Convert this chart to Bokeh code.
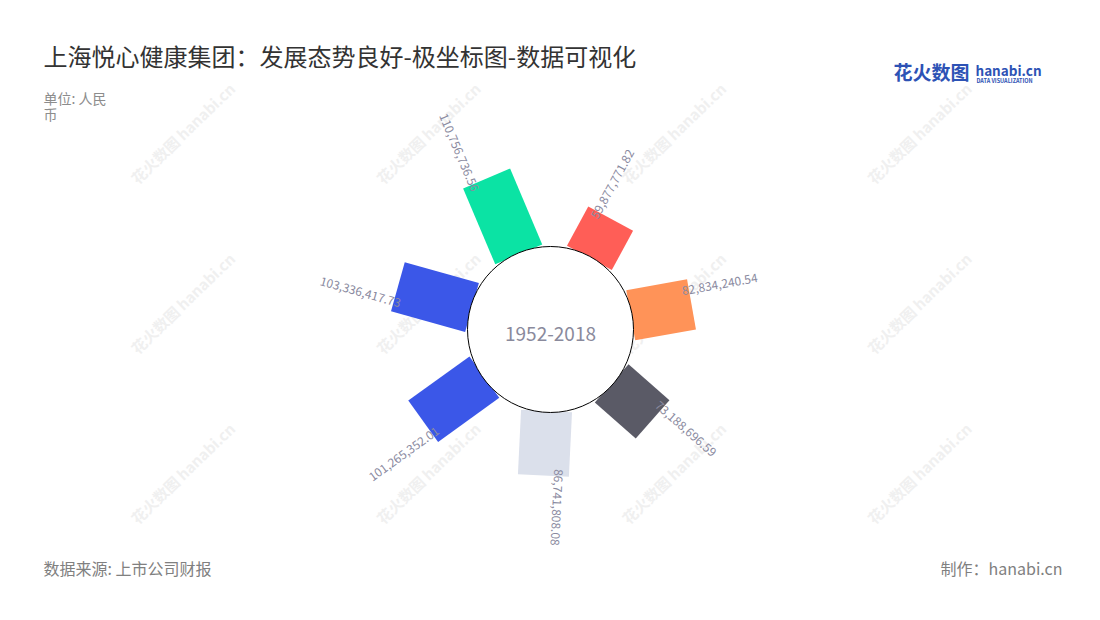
import math
from bokeh.plotting import figure
from bokeh.models import Range1d, ColumnDataSource
from bokeh.core.properties import value
from bokeh.embed import file_html
from bokeh.resources import INLINE

# ---- data ----
values = [59877771.82, 82834240.54, 73188696.59, 86741808.08,
          101265352.01, 103336417.73, 110756736.56]
colors = ["#ff5e57", "#ff9358", "#5a5a66", "#dbe0eb",
          "#3b57e8", "#3b57e8", "#0be3a4"]
center_label = "1952-2018"
title = "上海悦心健康集团：发展态势良好-极坐标图-数据可视化"
unit_lines = ["单位: 人民", "币"]
source_text = "数据来源: 上市公司财报"
credit_text = "制作：hanabi.cn"

FONT = "Noto Sans CJK SC"
W, H = 1100, 620

p = figure(width=1084, height=604, x_range=Range1d(0, 1084), y_range=Range1d(16, 620),
           output_backend="svg", toolbar_location=None, min_border=0)
p.axis.visible = False
p.grid.visible = False
p.outline_line_color = None
p.background_fill_color = "white"
p.border_fill_color = "white"


def Y(py):
    return H - py


# ---- watermarks ----
wx, wy = [], []
for i in range(4):
    for j in range(3):
        wx.append(133 + 245.5 * i)
        wy.append(Y(180 + 170 * j))
p.text(x=wx, y=wy, text=["花火数图 hanabi.cn"] * len(wx), angle=math.radians(44),
       text_font=value(FONT), text_font_size="15px", text_font_style="bold",
       text_color="#f0f0f0", text_align="left", text_baseline="middle")

# ---- polar bars ----
cx, cy = 550, Y(329)
r0 = 81.5
scale = 0.745e-6   # px per unit value
bar_w = 51
n = len(values)
offset = 28.5

xs, ys = [], []
out_lab = dict(x=[], y=[], text=[], angle=[])
in_lab = dict(x=[], y=[], text=[], angle=[])
for k, v in enumerate(values):
    th = math.radians(offset + k * 360.0 / n)   # compass angle, clockwise from north
    ux, uy = math.sin(th), math.cos(th)
    vx, vy = -math.cos(th), math.sin(th)          # counter-clockwise side
    r1 = r0 + v * scale
    pts = [(r0, -bar_w / 2), (r1, -bar_w / 2), (r1, bar_w / 2), (r0, bar_w / 2)]
    xs.append([cx + r * ux + s * vx for r, s in pts])
    ys.append([cy + r * uy + s * vy for r, s in pts])
    a, d = 7, 15
    lx = cx + (r1 - a) * ux + d * vx
    ly = cy + (r1 - a) * uy + d * vy
    ang = math.atan2(uy, ux)
    txt = f"{v:,.2f}"
    deg = offset + k * 360.0 / n
    if deg <= 200:
        out_lab["x"].append(lx); out_lab["y"].append(ly)
        out_lab["text"].append(txt); out_lab["angle"].append(ang)
    else:
        in_lab["x"].append(lx); in_lab["y"].append(ly)
        in_lab["text"].append(txt); in_lab["angle"].append(ang + math.pi)

p.patches(xs=xs, ys=ys, fill_color=colors, line_color=None)
p.circle(x=[cx], y=[cy], radius=83, fill_color="white", line_color="#000000", line_width=1)

lab_color = "#8a8aa0"
p.text(x="x", y="y", text="text", angle="angle", source=ColumnDataSource(out_lab),
       text_font=value(FONT), text_font_size="12px", text_color=lab_color,
       text_align="left", text_baseline="middle")
p.text(x="x", y="y", text="text", angle="angle", source=ColumnDataSource(in_lab),
       text_font=value(FONT), text_font_size="12px", text_color=lab_color,
       text_align="right", text_baseline="middle")

p.text(x=[cx], y=[Y(333)], text=[center_label], text_font=value(FONT),
       text_font_size="19px", text_color="#8a8a9c", text_align="center", text_baseline="middle")

# ---- titles ----
p.text(x=[43], y=[Y(55)], text=[title], text_font=value(FONT), text_font_size="24px",
       text_color="#333333", text_align="left", text_baseline="middle")
p.text(x=[43, 43], y=[Y(97), Y(113)], text=unit_lines, text_font=value(FONT),
       text_font_size="14px", text_color="#8c8c8c", text_align="left", text_baseline="middle")
p.text(x=[43], y=[Y(567)], text=[source_text], text_font=value(FONT), text_font_size="16px",
       text_color="#808080", text_align="left", text_baseline="middle")
p.text(x=[1062], y=[Y(567)], text=[credit_text], text_font=value(FONT), text_font_size="16px",
       text_color="#808080", text_align="right", text_baseline="middle")

# ---- logo ----
p.text(x=[893], y=[Y(71)], text=["花火数图"], text_font=value(FONT), text_font_size="19px",
       text_font_style="bold", text_color="#2d52b5", text_align="left", text_baseline="middle")
p.text(x=[975], y=[Y(69)], text=["hanabi.cn"], text_font=value(FONT), text_font_size="13.5px",
       text_font_style="bold", text_color="#2d52b5", text_align="left", text_baseline="middle")
p.text(x=[976], y=[Y(80)], text=["DATA VISUALIZATION"], text_font=value(FONT), text_font_size="5.5px",
       text_font_style="bold", text_color="#2d52b5", text_align="left", text_baseline="middle")

open("out.html", "w").write(file_html(p, INLINE))
